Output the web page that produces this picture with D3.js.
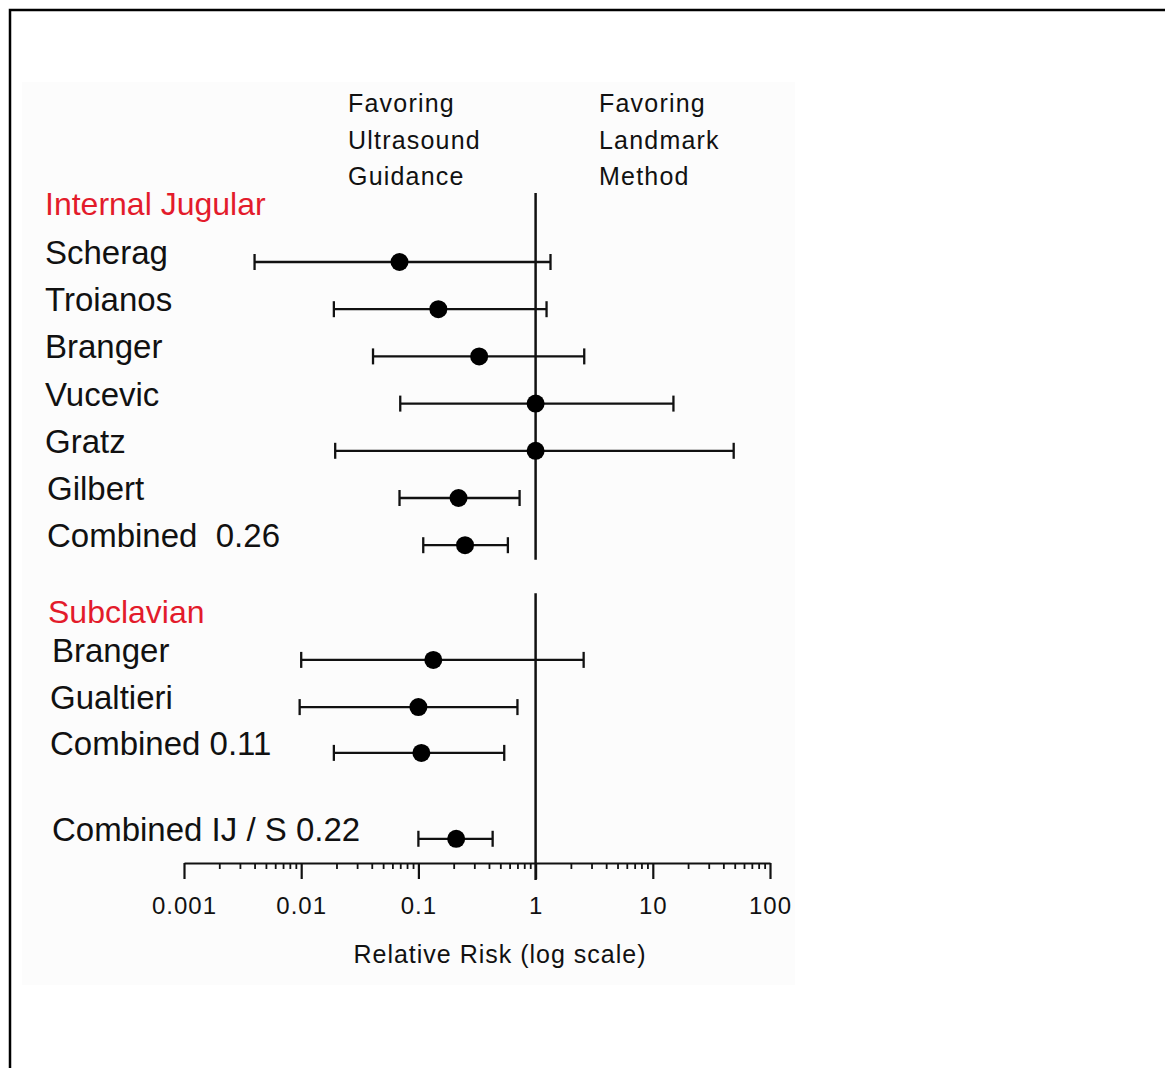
<!DOCTYPE html>
<html>
<head>
<meta charset="utf-8">
<script src="https://cdn.jsdelivr.net/npm/d3@7"></script>
<style>
  body { margin: 0; background: #fff; }
  svg { display: block; font-family: "Liberation Sans", Arial, sans-serif; }
</style>
</head>
<body>
<div class="chart-container"></div>
<script>
// study rows (row index on the vertical scale, relative risk with 95% CI)
const studies = ["Scherag", "Troianos", "Branger", "Vucevic", "Gratz", "Gilbert", "Combined  0.26",
                 "Branger", "Gualtieri", "Combined 0.11", "Combined IJ / S 0.22"];
const rows    = [0, 1, 2, 3, 4, 5, 6, 8.43, 9.43, 10.4, 12.22];
const rr      = [0.069, 0.148, 0.33, 1.0, 1.0, 0.22, 0.25, 0.134, 0.10, 0.106, 0.21];
const lower   = [0.004, 0.019, 0.041, 0.07, 0.0195, 0.069, 0.11, 0.010, 0.0097, 0.019, 0.10];
const upper   = [1.34, 1.24, 2.6, 15, 49, 0.73, 0.58, 2.57, 0.70, 0.54, 0.43];

const groups    = ["Internal Jugular", "Subclavian"];
const groupRows = [-1.23, 7.41];

const tickValues = [0.001, 0.01, 0.1, 1, 10, 100];
const tickLabels = ["0.001", "0.01", "0.1", "1", "10", "100"];

const favorLeft  = ["Favoring", "Ultrasound", "Guidance"];
const favorRight = ["Favoring", "Landmark", "Method"];

const W = 1165, H = 1068;
const axisY = 863;

const svg = d3.select(".chart-container").append("svg")
  .attr("width", W).attr("height", H);

// frame (top and left edges only)
svg.append("path")
  .attr("d", "M10,1068V10H1165")
  .attr("fill", "none").attr("stroke", "#000").attr("stroke-width", 2.5);

// faint panel behind the figure
svg.append("rect")
  .attr("x", 22).attr("y", 82).attr("width", 773).attr("height", 903)
  .attr("fill", "#fcfcfc");

const x = d3.scaleLog().domain([0.001, 100]).range([184, 770]);
const y = d3.scaleLinear().domain([0, 1]).range([262, 309.2]);

// reference line at RR = 1
const refX = x(1);
svg.append("line")
  .attr("x1", refX).attr("x2", refX).attr("y1", y(-1.46)).attr("y2", y(6.31))
  .attr("stroke", "#111").attr("stroke-width", 2.5);
svg.append("line")
  .attr("x1", refX).attr("x2", refX).attr("y1", y(7.02)).attr("y2", axisY + 17)
  .attr("stroke", "#111").attr("stroke-width", 2.5);

// error bars
const data = studies.map((s, i) => ({name: s, row: rows[i], rr: rr[i], lo: lower[i], hi: upper[i]}));

const bars = svg.append("g").selectAll("g").data(data).enter().append("g");
bars.append("line")
  .attr("x1", d => x(d.lo)).attr("x2", d => x(d.hi))
  .attr("y1", d => y(d.row)).attr("y2", d => y(d.row))
  .attr("stroke", "#111").attr("stroke-width", 2.3);
bars.append("line")
  .attr("x1", d => x(d.lo)).attr("x2", d => x(d.lo))
  .attr("y1", d => y(d.row) - 8).attr("y2", d => y(d.row) + 8)
  .attr("stroke", "#111").attr("stroke-width", 2.3);
bars.append("line")
  .attr("x1", d => x(d.hi)).attr("x2", d => x(d.hi))
  .attr("y1", d => y(d.row) - 8).attr("y2", d => y(d.row) + 8)
  .attr("stroke", "#111").attr("stroke-width", 2.3);
bars.append("circle")
  .attr("cx", d => x(d.rr)).attr("cy", d => y(d.row)).attr("r", 9)
  .attr("fill", "#000");

// row labels
svg.append("g").selectAll("text").data(data).enter().append("text")
  .attr("x", (d, i) => i < 5 ? 45 : (i < 7 ? 47 : (i === 7 || i === 10 ? 52 : 50)))
  .attr("y", d => y(d.row) + 2)
  .attr("font-size", 33).attr("fill", "#111")
  .style("white-space", "pre")
  .attr("xml:space", "preserve")
  .text(d => d.name);

// group headers
svg.append("g").selectAll("text").data(groups).enter().append("text")
  .attr("x", (d, i) => i === 0 ? 45 : 48)
  .attr("y", (d, i) => y(groupRows[i]) + 11)
  .attr("font-size", 32).attr("fill", "#e31b2b")
  .text(d => d);

// favoring notes
const notes = svg.append("g").attr("font-size", 25).attr("letter-spacing", 1.2).attr("fill", "#111");
notes.selectAll(".fl").data(favorLeft).enter().append("text")
  .attr("x", 348).attr("y", (d, i) => 112 + i * 36.5).text(d => d);
notes.selectAll(".fr").data(favorRight).enter().append("text")
  .attr("x", 599).attr("y", (d, i) => 112 + i * 36.5).text(d => d);

// x axis: major and minor ticks
const minorTicks = [];
tickValues.slice(0, -1).forEach(v => { for (let k = 2; k <= 9; k++) minorTicks.push(v * k); });

const axisG = svg.append("g").attr("transform", `translate(0,${axisY})`);
axisG.call(d3.axisBottom(x).tickValues(minorTicks).tickSize(6).tickSizeOuter(0).tickFormat(""))
  .call(g => g.selectAll("line").attr("stroke", "#111").attr("stroke-width", 1.8))
  .call(g => g.select(".domain").attr("stroke", "#111").attr("stroke-width", 2.2));

const majorG = svg.append("g").attr("transform", `translate(0,${axisY})`);
majorG.call(d3.axisBottom(x).tickValues(tickValues).tickSize(16).tickPadding(18)
    .tickFormat((d, i) => tickLabels[i]))
  .call(g => g.select(".domain").remove())
  .call(g => g.selectAll("line").attr("stroke", "#111").attr("stroke-width", 2.2))
  .call(g => g.selectAll("text")
    .attr("font-family", "Liberation Sans, Arial, sans-serif")
    .attr("font-size", 24).attr("letter-spacing", 1).attr("fill", "#111"));

svg.append("text")
  .attr("x", 500).attr("y", 963).attr("text-anchor", "middle")
  .attr("font-size", 25).attr("letter-spacing", 1).attr("fill", "#111")
  .text("Relative Risk (log scale)");
</script>
</body>
</html>
